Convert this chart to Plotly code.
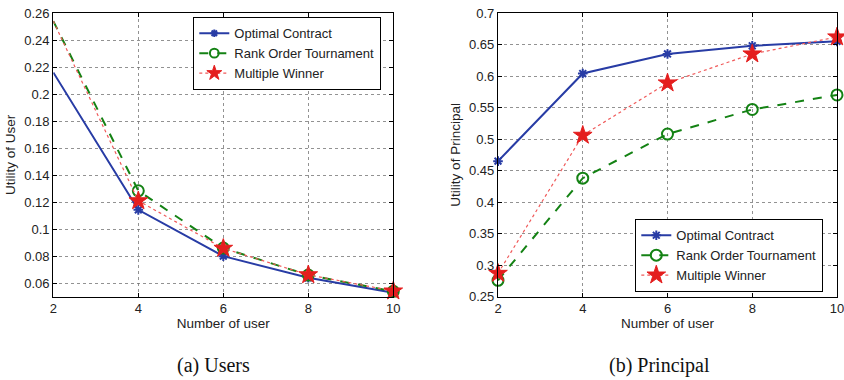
import plotly.graph_objects as go

users = [2, 4, 6, 8, 10]
x_ticks = [2, 4, 6, 8, 10]
user_yticks = [0.06, 0.08, 0.10, 0.12, 0.14, 0.16, 0.18, 0.20, 0.22, 0.24, 0.26]
user_ytick_labels = ["0.06", "0.08", "0.1", "0.12", "0.14", "0.16", "0.18", "0.2", "0.22", "0.24", "0.26"]
prin_yticks = [0.25, 0.30, 0.35, 0.40, 0.45, 0.50, 0.55, 0.60, 0.65, 0.70]
prin_ytick_labels = ["0.25", "0.3", "0.35", "0.4", "0.45", "0.5", "0.55", "0.6", "0.65", "0.7"]

# (a) Utility of user
user_optimal = [0.216, 0.1143, 0.0800, 0.0640, 0.0530]
user_rank = [0.254, 0.1284, 0.0860, 0.0660, 0.0540]
user_multiple = [0.254, 0.1210, 0.0858, 0.0662, 0.0542]

# (b) Utility of principal
prin_optimal = [0.465, 0.604, 0.635, 0.648, 0.655]
prin_rank = [0.276, 0.438, 0.508, 0.547, 0.570]
prin_multiple = [0.287, 0.506, 0.589, 0.635, 0.662]

names = ["Optimal Contract", "Rank Order Tournament", "Multiple Winner"]
captions = ["(a) Users", "(b) Principal"]

BLUE = "rgb(40,60,165)"
GREEN = "rgb(20,130,20)"
RED = "rgb(228,30,30)"
RED_LINE = "rgb(240,90,90)"

W, H = 844, 380

def px_x(p):
    return p / W

def px_y(p):
    return 1 - p / H

fig = go.Figure()

styles = [
    dict(color=BLUE, lcolor=BLUE, dash="solid", width=2, symbol="asterisk-open", msize=8, mline=2),
    dict(color=GREEN, lcolor=GREEN, dash="dash", width=2, symbol="circle-open", msize=11, mline=2),
    dict(color=RED, lcolor=RED_LINE, dash="dot", width=1.2, symbol="star", msize=14, mline=1),
]

def add_series(xs, ys, st, name, xaxis, yaxis, legend, hide_first):
    sizes = [st["msize"]] * len(xs)
    if hide_first:
        sizes[0] = 0
    fig.add_trace(go.Scatter(
        x=xs, y=ys, name=name, mode="lines+markers",
        line=dict(color=st["lcolor"], dash=st["dash"], width=st["width"]),
        marker=dict(symbol=st["symbol"], size=sizes, color=st["color"], opacity=1,
                    line=dict(color=st["color"], width=st["mline"])),
        xaxis=xaxis, yaxis=yaxis, legend=legend, cliponaxis=False,
    ))

for ys, st, nm in zip([user_optimal, user_rank, user_multiple], styles, names):
    add_series(users, ys, st, nm, "x", "y", "legend", True)
for ys, st, nm in zip([prin_optimal, prin_rank, prin_multiple], styles, names):
    add_series(users, ys, st, nm, "x2", "y2", "legend2", False)

FONT = "Liberation Sans, Arial, sans-serif"
tickfont = dict(family=FONT, size=13, color="#222")
titlefont = dict(family=FONT, size=13.5, color="#222")

common = dict(showline=True, linecolor="black", linewidth=1.3, mirror="allticks",
              ticks="inside", ticklen=4, tickcolor="black",
              showgrid=True, gridcolor="rgba(110,110,110,0.75)", griddash="dot", gridwidth=1,
              zeroline=False, tickfont=tickfont, automargin=False, ticklabeloverflow="allow")

def xaxis_cfg(dom, anchor):
    return dict(domain=dom, anchor=anchor, range=[2, 10], tickvals=x_ticks,
                title=dict(text="Number of user", font=titlefont, standoff=3), **common)

def yaxis_cfg(dom, anchor, rng, tv, tt, title):
    return dict(domain=dom, anchor=anchor, range=rng, tickvals=tv, ticktext=tt,
                title=dict(text=title, font=titlefont, standoff=5), **common)

ydom = [px_y(296.7), px_y(13.0)]
legend_common = dict(xanchor="left", bgcolor="white", bordercolor="black", borderwidth=1.3,
                     font=dict(family=FONT, size=13, color="#222"),
                     tracegroupgap=0, itemwidth=30)
fig.update_layout(
    width=W, height=H,
    margin=dict(l=0, r=0, t=0, b=0, autoexpand=False),
    paper_bgcolor="white", plot_bgcolor="white",
    xaxis=xaxis_cfg([px_x(53.3), px_x(393.3)], "y"),
    yaxis=yaxis_cfg(ydom, "x", [0.05, 0.26], user_yticks, user_ytick_labels, "Utility of User"),
    xaxis2=xaxis_cfg([px_x(498), px_x(837)], "y2"),
    yaxis2=yaxis_cfg(ydom, "x2", [0.25, 0.7], prin_yticks, prin_ytick_labels, "Utility of Principal"),
    legend=dict(x=px_x(193), y=px_y(17), yanchor="top", **legend_common),
    legend2=dict(x=px_x(635), y=px_y(292), yanchor="bottom", **legend_common),
    showlegend=True,
)

for cap, cx in zip(captions, [213, 659]):
    fig.add_annotation(text=cap, x=px_x(cx), y=px_y(365), xref="paper", yref="paper",
                       xanchor="center", yanchor="middle", showarrow=False,
                       font=dict(family="Liberation Serif, Times New Roman, serif", size=20, color="#111"))

fig.write_html("out.html", config={"displayModeBar": False},
               post_script="document.body.style.margin='0';document.body.style.overflow='hidden';")
